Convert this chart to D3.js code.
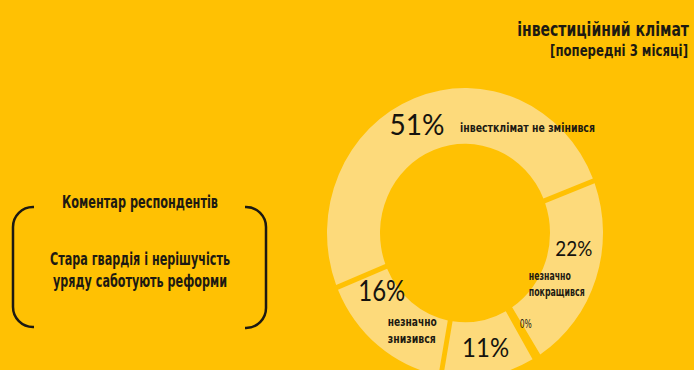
<!DOCTYPE html>
<html>
<head>
<meta charset="utf-8">
<script src="https://cdn.jsdelivr.net/npm/d3@7"></script>
<style>
  body{margin:0;background:#FFC103;}
  svg{display:block;}
  .cond{font-family:"DejaVu Sans Condensed","DejaVu Sans",sans-serif;font-weight:bold;fill:#1d1a12;}
  .thin{font-family:Lato,"Open Sans",sans-serif;font-weight:normal;fill:#15130e;}
</style>
</head>
<body>
<div id="chart"></div>
<script>

// дані
var values = [51, 22, 0, 11, 16];
var pctLabels = ["51%", "22%", "0%", "11%", "16%"];
var categories = [
  ["інвестклімат не змінився"],
  ["незначно", "покращився"],
  [],
  [],
  ["незначно", "знизився"]
];
var titleLines = ["інвестиційний клімат", "[попередні 3 місяці]"];
var commentHead = "Коментар респондентів";
var commentLines = ["Стара гвардія і нерішучість", "уряду саботують реформи"];

var W = 694, H = 370;
var cx = 465, cy = 233, rOut = 138, rIn = 85, stretch = 1.05;

//підписи: зсуви від центроїда сегмента
var layout = [
  {pdx:-7,  pdy:11,  psize:29, plen:55, cdx:36,  cdy:8,  lh:16, clen:[135]},
  {pdx:3,   pdy:-14, psize:21, plen:37, cdx:-42, cdy:10, lh:16, clen:[42,56]},
  {pdx:3,   pdy:-5,  psize:12, plen:13, normal:true},
  {pdx:1,   pdy:8.5, psize:27, plen:47},
  {pdx:-13, pdy:-23, psize:28, plen:47, cdx:-7,  cdy:2,  lh:17, clen:[49,48]}
];

var svg = d3.select("#chart").append("svg")
  .attr("width", W).attr("height", H);

svg.append("rect").attr("width", W).attr("height", H).attr("fill", "#FFC103");

//текст, стиснутий по ширині через scale
function fitText(parent, cls, x, y, size, width, anchor, str){
  var g = parent.append("g");
  var t = g.append("text").attr("class", cls)
    .attr("font-size", size)
    .attr("text-anchor", anchor || "start")
    .text(str);
  var k = width / t.node().getComputedTextLength();
  g.attr("transform", "translate(" + x + "," + y + ") scale(" + k + ",1)");
  return t;
}

var pie = d3.pie().sort(null).value(function(d){ return d; })
  .startAngle(-112 * Math.PI / 180)
  .endAngle(248 * Math.PI / 180)
  .padAngle(0.03);

var arc = d3.arc().innerRadius(rIn).outerRadius(rOut);
var arcs = pie(values);

svg.append("g")
  .attr("transform", "translate(" + cx + "," + cy + ") scale(1," + stretch + ")")
  .selectAll("path")
  .data(arcs)
  .enter().append("path")
  .attr("d", arc)
  .attr("fill", "#FDDA7B");

var lab = svg.append("g").attr("transform", "translate(" + cx + "," + cy + ")");

arcs.forEach(function(a, i){
  var c = arc.centroid(a);
  var x = c[0], y = c[1] * stretch;
  var L = layout[i];
  var t = fitText(lab, L.normal ? "cond" : "thin", x + L.pdx, y + L.pdy, L.psize, L.plen, "middle", pctLabels[i]);
  if(L.normal) t.style("font-weight", "normal");
  categories[i].forEach(function(line, j){
    fitText(lab, "cond", x + L.cdx, y + L.cdy + j * L.lh, 13, L.clen[j], "start", line);
  });
});

//заголовок
fitText(svg, "cond", 689, 36, 19, 172, "end", titleLines[0]);
fitText(svg, "cond", 688, 56, 15, 138, "end", titleLines[1]);

//коментар
fitText(svg, "cond", 140, 208, 18, 156, "middle", commentHead);
var cl = [180, 174];
commentLines.forEach(function(t, i){
  fitText(svg, "cond", 140, 265 + i * 22, 18, cl[i], "middle", t);
});

//дужки
function bracket(x0, x1, y0, y1, r){
  var p = d3.path();
  p.moveTo(x0, y0);
  p.arcTo(x1, y0, x1, y0 + r, r);
  p.lineTo(x1, y1 - r);
  p.arcTo(x1, y1, x0, y1, r);
  p.lineTo(x0, y1);
  return p.toString();
}
svg.append("path").attr("d", bracket(34, 13, 207, 327, 20))
  .attr("fill", "none").attr("stroke", "#1d1a12").attr("stroke-width", 2.5);
svg.append("path").attr("d", bracket(245, 266, 207, 328, 20))
  .attr("fill", "none").attr("stroke", "#1d1a12").attr("stroke-width", 2.5);

</script>
</body>
</html>
